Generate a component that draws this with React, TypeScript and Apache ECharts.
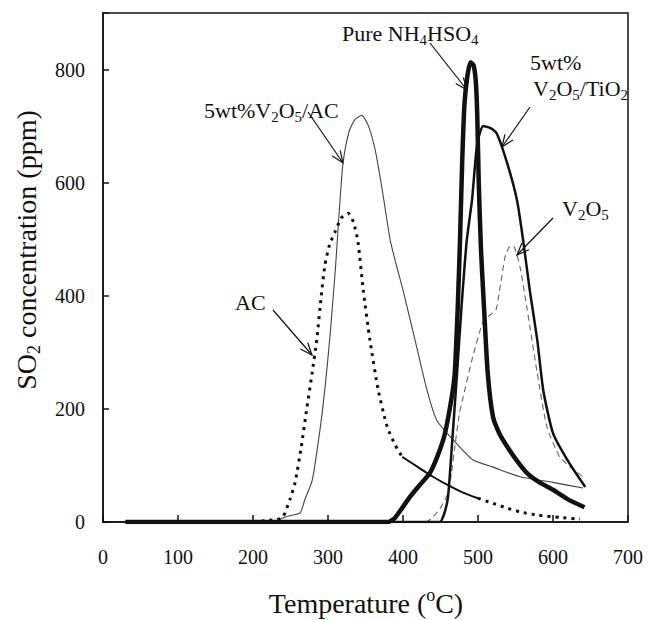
import React, { useEffect, useRef } from "react";
import * as echarts from "echarts";

// ---- data (Temperature °C, SO2 concentration ppm) ----
const acTemp = [30, 200, 220, 232, 240, 249, 256, 264, 272, 279, 285, 291, 296, 302, 310, 318, 327, 334, 340, 347, 356, 367, 379, 390, 399];
const acConc = [0, 0, 3, 4, 9, 39, 69, 130, 203, 265, 322, 400, 455, 490, 515, 538, 546, 530, 495, 410, 321, 233, 168, 135, 115];
const acMidTemp = [399, 420, 440, 460, 480, 500];
const acMidConc = [115, 97, 80, 65, 52, 42];
const acTailTemp = [500, 520, 540, 556, 580, 610, 636];
const acTailConc = [42, 33, 24, 18, 12, 8, 5];

const vacTemp = [30, 230, 239, 252, 263, 269, 279, 290, 297, 303, 310, 315, 320, 328, 336, 345, 354, 363, 372, 383, 392, 400, 416, 432, 445, 467, 493, 520, 556, 600, 640];
const vacConc = [0, 0, 7, 12, 16, 39, 74, 170, 250, 334, 450, 550, 634, 690, 712, 719, 700, 657, 590, 498, 450, 410, 322, 233, 180, 145, 110, 97, 80, 70, 60];

const nhTemp = [30, 380, 389, 399, 409, 422, 436, 447, 456, 465, 469, 473, 476, 479, 482, 486, 490, 494, 497, 499, 501, 504, 508, 513, 520, 529, 539, 552, 565, 582, 600, 620, 642];
const nhConc = [0, 0, 7, 25, 44, 65, 87, 120, 157, 221, 263, 380, 498, 640, 740, 790, 813, 808, 780, 720, 600, 481, 380, 263, 186, 155, 133, 108, 87, 70, 57, 40, 26];

const tiTemp = [30, 449, 455, 460, 466, 472, 478, 485, 492, 499, 507, 516, 525, 539, 552, 560, 569, 579, 587, 600, 619, 643];
const tiConc = [0, 0, 15, 44, 150, 262, 380, 498, 569, 670, 700, 697, 687, 634, 569, 500, 410, 322, 233, 157, 110, 62];

const v2o5Temp = [30, 430, 440, 450, 460, 465, 469, 475, 480, 493, 507, 518, 524, 530, 536, 542, 547, 556, 565, 579, 592, 609, 625, 640];
const v2o5Conc = [0, 0, 9, 25, 51, 90, 132, 190, 220, 292, 355, 368, 375, 420, 468, 487, 488, 451, 380, 263, 168, 115, 95, 80];

const xTicks = [0, 100, 200, 300, 400, 500, 600, 700];
const yTicks = [0, 200, 400, 600, 800];

const FONT = "'Liberation Serif', 'Times New Roman', serif";
const INK = "#111";

function pairs(t: number[], c: number[]) {
  return t.map((v, i) => [v, c[i]]);
}

function arrow(x1: number, y1: number, x2: number, y2: number) {
  const dx = x2 - x1;
  const dy = y2 - y1;
  const len = Math.sqrt(dx * dx + dy * dy);
  const ux = dx / len;
  const uy = dy / len;
  const hl = 13;
  const a = (22 * Math.PI) / 180;
  const c = Math.cos(a);
  const s = Math.sin(a);
  const bx = -ux;
  const by = -uy;
  const p1 = [x2 + hl * (bx * c - by * s), y2 + hl * (bx * s + by * c)];
  const p2 = [x2 + hl * (bx * c + by * s), y2 + hl * (-bx * s + by * c)];
  return [
    { type: "line", shape: { x1, y1, x2, y2 }, style: { stroke: INK, lineWidth: 1.2 }, silent: true },
    { type: "polyline", shape: { points: [p1, [x2, y2], p2] }, style: { stroke: INK, lineWidth: 1.2, fill: null }, silent: true },
  ];
}

const annRich = {
  a: { fontSize: 22, fontFamily: FONT, lineHeight: 28, fill: INK },
  s: { fontSize: 15, fontFamily: FONT, lineHeight: 16, verticalAlign: "bottom", fill: INK },
};

function label(text: string, x: number, y: number) {
  return {
    type: "text",
    x,
    y,
    silent: true,
    style: { text, rich: annRich, fontFamily: FONT, fontSize: 22, fill: INK, align: "left", verticalAlign: "middle" },
  };
}

export default function App() {
  const ref = useRef<HTMLDivElement>(null);
  useEffect(() => {
    if (!ref.current) return;
    const chart = echarts.init(ref.current, undefined, { renderer: "svg" });
    const titleRich = {
      t: { fontSize: 28, fontFamily: FONT, lineHeight: 34, fill: INK },
      ts: { fontSize: 18, fontFamily: FONT, lineHeight: 18, verticalAlign: "bottom", fill: INK },
      tu: { fontSize: 18, fontFamily: FONT, lineHeight: 18, verticalAlign: "top", fill: INK },
    };
    chart.setOption({
      animation: false,
      backgroundColor: "#fff",
      grid: { left: 103, right: 23, top: 13, bottom: 98, show: true, borderColor: INK, borderWidth: 1.5, backgroundColor: "transparent" },
      xAxis: {
        type: "value",
        min: xTicks[0],
        max: xTicks[xTicks.length - 1],
        interval: 100,
        axisLine: { show: true, lineStyle: { color: INK, width: 1.5 } },
        axisTick: { show: true, inside: true, length: 7, lineStyle: { color: INK, width: 1.5 } },
        axisLabel: { color: INK, fontSize: 20, fontFamily: FONT, margin: 25 },
        splitLine: { show: false },
      },
      yAxis: {
        type: "value",
        min: 0,
        max: 900,
        interval: 200,
        axisLine: { show: true, lineStyle: { color: INK, width: 1.5 } },
        axisTick: { show: true, inside: true, length: 6, lineStyle: { color: INK, width: 1.5 } },
        axisLabel: {
          color: INK,
          fontSize: 20,
          fontFamily: FONT,
          margin: 18,
          formatter: (v: number) => (yTicks.includes(v) ? String(v) : ""),
        },
        splitLine: { show: false },
      },
      series: [
        {
          name: "5wt%V2O5/AC",
          type: "line",
          data: pairs(vacTemp, vacConc),
          showSymbol: false,
          smooth: 0.2,
          lineStyle: { color: "#444", width: 1.1 },
        },
        {
          name: "V2O5",
          type: "line",
          data: pairs(v2o5Temp, v2o5Conc),
          showSymbol: false,
          smooth: 0.2,
          lineStyle: { color: "#666", width: 1.1, type: [6, 4] },
        },
        {
          name: "AC",
          type: "line",
          data: pairs(acTemp, acConc),
          showSymbol: false,
          smooth: 0.2,
          lineStyle: { color: INK, width: 3, type: [3, 5] },
        },
        {
          name: "AC mid",
          type: "line",
          data: pairs(acMidTemp, acMidConc),
          showSymbol: false,
          smooth: 0.2,
          lineStyle: { color: INK, width: 2 },
        },
        {
          name: "AC tail",
          type: "line",
          data: pairs(acTailTemp, acTailConc),
          showSymbol: false,
          smooth: 0.2,
          lineStyle: { color: INK, width: 3, type: [3, 5] },
        },
        {
          name: "5wt% V2O5/TiO2",
          type: "line",
          data: pairs(tiTemp, tiConc),
          showSymbol: false,
          smooth: 0.2,
          lineStyle: { color: INK, width: 2.5 },
        },
        {
          name: "Pure NH4HSO4",
          type: "line",
          data: pairs(nhTemp, nhConc),
          showSymbol: false,
          smooth: 0.2,
          lineStyle: { color: INK, width: 4.5 },
        },
      ],
      graphic: [
        label("{a|5wt%V}{s|2}{a|O}{s|5}{a|/AC}", 204, 110),
        label("{a|Pure NH}{s|4}{a|HSO}{s|4}", 342, 33),
        label("{a|5wt%}", 530, 62),
        label("{a|V}{s|2}{a|O}{s|5}{a|/TiO}{s|2}", 533, 88),
        label("{a|V}{s|2}{a|O}{s|5}", 562, 208),
        label("{a|AC}", 235, 302),
        ...arrow(308, 112, 343, 163),
        ...arrow(430, 43, 467, 90),
        ...arrow(530, 107, 502, 147),
        ...arrow(553, 218, 517, 255),
        ...arrow(273, 310, 312, 355),
        {
          type: "text",
          x: 26,
          y: 250,
          rotation: Math.PI / 2,
          silent: true,
          style: { text: "{t|SO}{ts|2}{t| concentration (ppm)}", rich: titleRich, fontFamily: FONT, fontSize: 28, fill: INK, align: "center", verticalAlign: "middle" },
        },
        {
          type: "text",
          x: 366,
          y: 603,
          silent: true,
          style: { text: "{t|Temperature (}{tu|o}{t|C)}", rich: titleRich, fontFamily: FONT, fontSize: 28, fill: INK, align: "center", verticalAlign: "middle" },
        },
      ],
    });
    return () => chart.dispose();
  }, []);
  return <div ref={ref} style={{ position: "fixed", left: 0, top: 0, width: 651, height: 620 }} />;
}
